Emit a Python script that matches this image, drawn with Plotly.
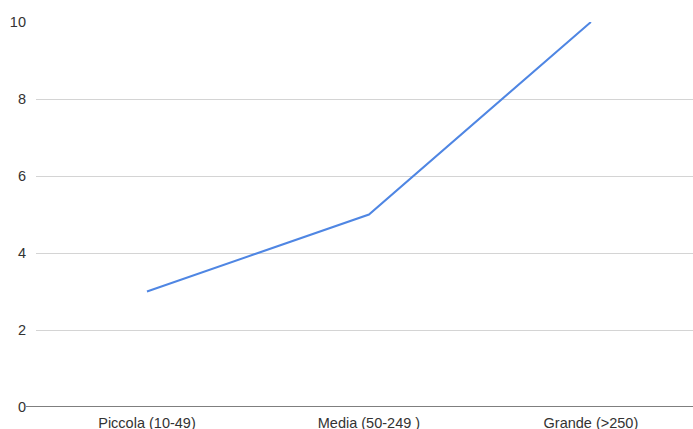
import plotly.graph_objects as go

categories = ["Piccola (10-49)", "Media (50-249 )", "Grande (>250)"]
values = [3, 5, 10]
y_ticks = [0, 2, 4, 6, 8, 10]

fig = go.Figure()
fig.add_trace(go.Scatter(
    x=categories, y=values, mode="lines",
    line=dict(color="#4f86e3", width=2),
    hoverinfo="skip", showlegend=False,
))

L = 36
W = 693
fig.update_layout(
    width=W, height=429,
    margin=dict(l=L, r=0, t=22, b=22),
    plot_bgcolor="white", paper_bgcolor="white",
    font=dict(family="Liberation Sans, Arial, sans-serif", size=14.5, color="#333333"),
    xaxis=dict(
        type="category", range=[-0.5, 2.46], automargin=False,
        showgrid=False, zeroline=False, showline=False,
        ticks="", ticklabelstandoff=5,
        tickfont=dict(size=14.5, color="#333333"),
    ),
    yaxis=dict(
        range=[0, 10], tickvals=y_ticks, automargin=False,
        showgrid=True, gridcolor="#d4d4d4", gridwidth=1,
        zeroline=False, showline=False, ticks="",
        ticklabelstandoff=9,
        tickfont=dict(size=14.5, color="#333333"),
    ),
)
fig.add_shape(type="line", xref="paper", yref="y",
              x0=(26 - L) / (W - L), x1=1, y0=0, y1=0,
              line=dict(color="#555555", width=1.5))

fig.write_html("out.html")
